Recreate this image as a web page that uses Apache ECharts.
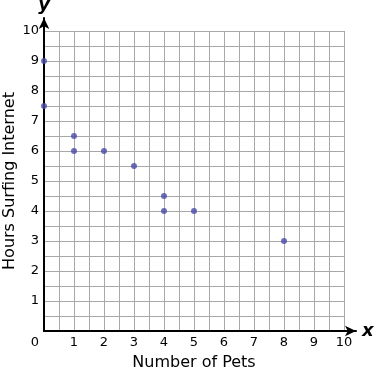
<!DOCTYPE html>
<html><head><meta charset="utf-8">
<script src="https://cdn.jsdelivr.net/npm/echarts@6/dist/echarts.min.js"></script>
<style>html,body{margin:0;padding:0;background:#fff}#c{width:378px;height:372px}</style>
</head><body><div id="c"></div>
<script>
const petsX = [0, 0, 1, 1, 2, 3, 4, 4, 5, 8];
const hoursY = [9, 7.5, 6.5, 6, 6, 5.5, 4.5, 4, 4, 3];
const xTicks = [0,1,2,3,4,5,6,7,8,9,10];
const yTicks = [0,1,2,3,4,5,6,7,8,9,10];
const xTitle = 'Number of Pets';
const yTitle = 'Hours Surfing Internet';

const font = 'DejaVu Sans, Verdana, sans-serif';
const points = petsX.map((x, i) => [x, hoursY[i]]);
const chart = echarts.init(document.getElementById('c'), null, {renderer: 'canvas'});
chart.setOption({
  animation: false,
  grid: [
    {left: 44, right: 34, top: 31, bottom: 41, containLabel: false, outerBoundsMode: 'none'},
    {left: 44, right: 22, top: 18, bottom: 41, containLabel: false, outerBoundsMode: 'none'}
  ],
  xAxis: [{
    gridIndex: 0, type: 'value', min: xTicks[0], max: xTicks[xTicks.length-1], interval: 1,
    axisLine: {show: false}, axisTick: {show: false},
    axisLabel: {color: '#000', fontFamily: font, fontSize: 13, margin: 5,
      formatter: v => v === 0 ? '{o|0}' : String(v),
      rich: {o: {padding: [0, 18, 0, 0], fontFamily: font, fontSize: 13, color: '#000'}}},
    splitLine: {show: true, lineStyle: {color: '#a8a8a8', width: 1}},
    minorTick: {show: false, splitNumber: 2},
    minorSplitLine: {show: true, lineStyle: {color: '#a8a8a8', width: 1}},
    name: xTitle, nameLocation: 'middle', nameGap: 24, nameMoveOverlap: false,
    nameTextStyle: {color: '#000', fontFamily: font, fontSize: 16}
  }, {
    gridIndex: 1, type: 'value', min: 0, max: 1,
    axisLine: {show: true, lineStyle: {color: '#000', width: 2}, symbol: ['none', 'arrow'], symbolSize: [8, 11]},
    axisTick: {show: false}, axisLabel: {show: false}, splitLine: {show: false},
    name: 'x', nameLocation: 'end', nameGap: 6,
    nameTextStyle: {color: '#000', fontFamily: font, fontSize: 18, fontWeight: 'bold', fontStyle: 'italic', verticalAlign: 'middle'}
  }],
  yAxis: [{
    gridIndex: 0, type: 'value', min: yTicks[0], max: yTicks[yTicks.length-1], interval: 1,
    axisLine: {show: false}, axisTick: {show: false},
    axisLabel: {color: '#000', fontFamily: font, fontSize: 13, margin: 5,
      formatter: v => v === 0 ? '' : String(v)},
    splitLine: {show: true, lineStyle: {color: '#a8a8a8', width: 1}},
    minorTick: {show: false, splitNumber: 2},
    minorSplitLine: {show: true, lineStyle: {color: '#a8a8a8', width: 1}},
    name: yTitle, nameLocation: 'middle', nameGap: 26, nameMoveOverlap: false,
    nameTextStyle: {color: '#000', fontFamily: font, fontSize: 16}
  }, {
    gridIndex: 1, type: 'value', min: 0, max: 1,
    axisLine: {show: true, lineStyle: {color: '#000', width: 2}, symbol: ['none', 'arrow'], symbolSize: [8, 11]},
    axisTick: {show: false}, axisLabel: {show: false}, splitLine: {show: false},
    name: 'y', nameLocation: 'end', nameGap: 4,
    nameTextStyle: {color: '#000', fontFamily: font, fontSize: 18, fontWeight: 'bold', fontStyle: 'italic'}
  }],
  series: [{
    type: 'scatter', xAxisIndex: 0, yAxisIndex: 0,
    data: points, symbolSize: 6,
    itemStyle: {color: '#4848a8'}
  }]
});
</script></body></html>
